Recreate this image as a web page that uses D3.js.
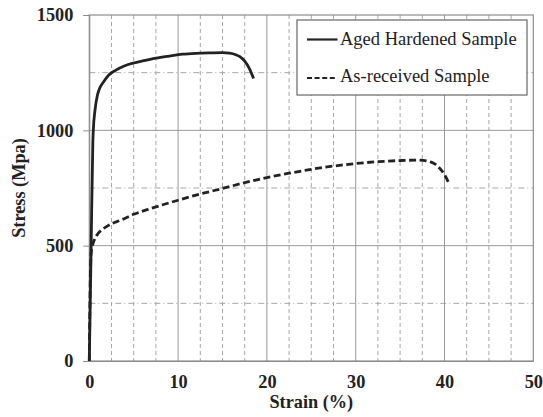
<!DOCTYPE html>
<html>
<head>
<meta charset="utf-8">
<script src="https://cdn.jsdelivr.net/npm/d3@7"></script>
</head>
<body style="margin:0; background:#fff">
<svg id="chart" width="543" height="417"></svg>
<script>
// Tensile test curves: strain (%) vs engineering stress (MPa)
const agedStrain = [0, 0.2, 0.4, 0.45, 0.65, 0.9, 1.1, 1.6, 2.2, 3, 4, 5, 6, 7.5, 9, 10.5, 12, 13.5, 15, 15.8, 16.5, 17, 17.5, 18, 18.5];
const agedStress = [0, 480, 950, 1000, 1090, 1150, 1176, 1210, 1240, 1261, 1280, 1292, 1301, 1313, 1322, 1330, 1334, 1336, 1337, 1335, 1328, 1318, 1300, 1270, 1225];

const recvStrain = [0, 0.1, 0.2, 0.35, 0.6, 1, 1.6, 2.5, 3.5, 5, 7, 10, 12.5, 15, 17.5, 20, 22.5, 25, 27.5, 30, 32.5, 35, 37, 38, 38.5, 39, 39.5, 40, 40.5];
const recvStress = [0, 330, 465, 500, 528, 553, 574, 595, 610, 636, 662, 697, 724, 748, 773, 795, 814, 831, 845, 856, 864, 869, 871, 867, 862, 852, 834, 808, 770];

const seriesNames = ["Aged Hardened Sample", "As-received Sample"];
const xTicks = [0, 10, 20, 30, 40, 50];
const yTicks = [0, 500, 1000, 1500];
const xMinor = [2.5, 5, 7.5, 12.5, 15, 17.5, 22.5, 25, 27.5, 32.5, 35, 37.5, 42.5, 45, 47.5];
const yMinor = [250, 750, 1250];

const svg = d3.select("#chart");
const m = { left: 89.3, right: 533.3, top: 15, bottom: 361 };

const x = d3.scaleLinear().domain([0, 50]).range([m.left, m.right]);
const y = d3.scaleLinear().domain([0, 1500]).range([m.bottom, m.top]);

const ink = "#222";
const gridCol = "#a6a6a6";
const serif = "'Liberation Serif'";

// minor vertical grid (dashed)
svg.append("g").selectAll("line").data(xMinor).join("line")
  .attr("x1", d => x(d)).attr("x2", d => x(d))
  .attr("y1", m.top).attr("y2", m.bottom)
  .attr("stroke", gridCol).attr("stroke-width", 1)
  .attr("stroke-dasharray", "4,3");

// minor horizontal grid (dash-dot)
svg.append("g").selectAll("line").data(yMinor).join("line")
  .attr("x1", m.left).attr("x2", m.right)
  .attr("y1", d => y(d)).attr("y2", d => y(d))
  .attr("stroke", gridCol).attr("stroke-width", 1)
  .attr("stroke-dasharray", "6,3,1,3");

// major grid (solid)
svg.append("g").selectAll("line").data(xTicks.slice(1, -1)).join("line")
  .attr("x1", d => x(d)).attr("x2", d => x(d))
  .attr("y1", m.top).attr("y2", m.bottom)
  .attr("stroke", "#999").attr("stroke-width", 1);
svg.append("g").selectAll("line").data(yTicks.slice(1, -1)).join("line")
  .attr("x1", m.left).attr("x2", m.right)
  .attr("y1", d => y(d)).attr("y2", d => y(d))
  .attr("stroke", "#999").attr("stroke-width", 1);

// plot frame
svg.append("rect")
  .attr("x", m.left).attr("y", m.top)
  .attr("width", m.right - m.left).attr("height", m.bottom - m.top)
  .attr("fill", "none").attr("stroke", "#8c8c8c").attr("stroke-width", 1.2);

// axes
const yAxis = d3.axisLeft(y).tickValues(yTicks).tickSize(6).tickPadding(10).tickFormat(d3.format("d"));
const gy = svg.append("g").attr("transform", `translate(${m.left},0)`).call(yAxis);
gy.select(".domain").attr("stroke", "#8c8c8c");
gy.selectAll(".tick line").attr("stroke", "#8c8c8c");
gy.selectAll("text").style("font-family", serif).style("font-size", "18.3px")
  .style("font-weight", "bold").attr("fill", ink);

const xAxis = d3.axisBottom(x).tickValues(xTicks).tickSize(0).tickPadding(14).tickFormat(d3.format("d"));
const gx = svg.append("g").attr("transform", `translate(0,${m.bottom})`).call(xAxis);
gx.select(".domain").attr("stroke", "#8c8c8c");
gx.selectAll("text").style("font-family", serif).style("font-size", "18.3px")
  .style("font-weight", "bold").attr("fill", ink);

// axis titles
svg.append("text")
  .attr("x", (m.left + m.right) / 2).attr("y", 408)
  .attr("text-anchor", "middle")
  .style("font-family", serif).style("font-size", "18.3px").style("font-weight", "bold")
  .attr("fill", ink).text("Strain (%)");
svg.append("text")
  .attr("transform", `translate(25,${(m.top + m.bottom) / 2}) rotate(-90)`)
  .attr("text-anchor", "middle")
  .style("font-family", serif).style("font-size", "18.3px").style("font-weight", "bold")
  .attr("fill", ink).text("Stress (Mpa)");

// curves
const line = d3.line().x(d => x(d[0])).y(d => y(d[1])).curve(d3.curveMonotoneX);
const aged = d3.zip(agedStrain, agedStress);
const recv = d3.zip(recvStrain, recvStress);

svg.append("path").datum(recv).attr("d", line)
  .attr("fill", "none").attr("stroke", ink).attr("stroke-width", 2.8)
  .attr("stroke-dasharray", "7,3.5");
svg.append("path").datum(aged).attr("d", line)
  .attr("fill", "none").attr("stroke", ink).attr("stroke-width", 2.8)
  .attr("stroke-linejoin", "round");

// legend
const lg = svg.append("g");
lg.append("rect").attr("x", 297).attr("y", 20).attr("width", 230).attr("height", 75)
  .attr("fill", "#fff").attr("stroke", "#666").attr("stroke-width", 1.2);
const rows = [
  { name: seriesNames[0], dash: null, ly: 39.5, ty: 45 },
  { name: seriesNames[1], dash: "5,2.6", ly: 78, ty: 82 }
];
rows.forEach(r => {
  lg.append("line").attr("x1", 307).attr("x2", 337.5).attr("y1", r.ly).attr("y2", r.ly)
    .attr("stroke", ink).attr("stroke-width", 2.2)
    .attr("stroke-dasharray", r.dash);
  lg.append("text").attr("x", 340).attr("y", r.ty)
    .style("font-family", serif).style("font-size", "18.5px")
    .attr("fill", ink).text(r.name);
});
</script>
</body>
</html>
